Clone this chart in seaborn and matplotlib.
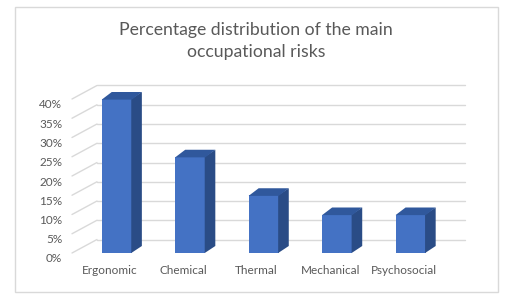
import numpy as np
import pandas as pd
import matplotlib
matplotlib.use("Agg")
import matplotlib.pyplot as plt
import seaborn as sns
from matplotlib.patches import Polygon, Rectangle
from matplotlib.lines import Line2D
from matplotlib.transforms import IdentityTransform, ScaledTranslation

# ---- data ----
categories = ["Ergonomic", "Chemical", "Thermal", "Mechanical", "Psychosocial"]
values = [0.40, 0.25, 0.15, 0.10, 0.10]
yticks = [0.00, 0.05, 0.10, 0.15, 0.20, 0.25, 0.30, 0.35, 0.40]
ytick_labels = ["0%", "5%", "10%", "15%", "20%", "25%", "30%", "35%", "40%"]
title = "Percentage distribution of the main\noccupational risks"

sns.set_theme(style="white")
plt.rcParams["font.family"] = ["Lato", "DejaVu Sans"]

W, H = 516, 298
fig = plt.figure(figsize=(W / 100, H / 100), dpi=100)
fig.patch.set_facecolor("white")

# front plane of the pseudo-3D chart (pixel coords from top-left)
L, R, B, T = 72, 440, 253, 99
ax = fig.add_axes([L / W, (H - B) / H, (R - L) / W, (B - T) / H])
ax.patch.set_visible(False)

df = pd.DataFrame({"risk": categories, "pct": values})
sns.barplot(data=df, x="risk", y="pct", color="#4472C4", saturation=1,
            width=0.41, ax=ax, zorder=3, edgecolor="none", linewidth=0)
ax.set_xlim(-0.61, 4.4)
ax.set_ylim(0, 0.40)
for s in ax.spines.values():
    s.set_visible(False)
ax.set_xlabel("")
ax.set_ylabel("")

TXT = "#595959"
ax.set_yticks(yticks, labels=ytick_labels)
ax.set_xticks(np.arange(len(categories)) - 7 / 73.4, labels=categories)
ax.tick_params(axis="both", length=0, colors=TXT, labelsize=8.5)
ax.tick_params(axis="y", pad=7)
ax.tick_params(axis="x", pad=9)
for lab in ax.get_yticklabels():
    lab.set_transform(lab.get_transform() + ScaledTranslation(0, -0.05, fig.dpi_scale_trans))

# walls: left diagonals and back gridlines
tr = ax.transData
x0, x1 = ax.get_xlim()
WDX, WDY = 25, 13.5
GRID = "#d9d9d9"
for t in yticks:
    px0, py = tr.transform((x0, t))
    px1, _ = tr.transform((x1, t))
    ax.add_line(Line2D([px0, px0 + WDX], [py, py + WDY], transform=IdentityTransform(),
                       color=GRID, lw=1, clip_on=False, zorder=1))
    ax.add_line(Line2D([px0 + WDX, px1 + WDX], [py + WDY, py + WDY], transform=IdentityTransform(),
                       color=GRID, lw=1, clip_on=False, zorder=1))

# 3D faces of bars
BDX, BDY = 10, 7
for p in ax.patches:
    bx, by = p.get_x(), p.get_y()
    bw, bh = p.get_width(), p.get_height()
    (xl, yb) = tr.transform((bx, by))
    (xr, yt) = tr.transform((bx + bw, by + bh))
    side = Polygon([(xr - 0.6, yb), (xr + BDX, yb + BDY), (xr + BDX, yt + BDY), (xr - 0.6, yt)],
                   closed=True, transform=IdentityTransform(), facecolor="#2A4C86",
                   edgecolor="none", zorder=3.5, clip_on=False)
    top = Polygon([(xl, yt - 0.6), (xr, yt - 0.6), (xr + BDX, yt + BDY), (xl + BDX, yt + BDY)],
                  closed=True, transform=IdentityTransform(), facecolor="#30589C",
                  edgecolor="none", zorder=3.6, clip_on=False)
    ax.add_patch(side)
    ax.add_patch(top)

# chart border
fig.add_artist(Rectangle((15 / W, (H - 292) / H), (498 - 15) / W, (292 - 7) / H,
                         transform=fig.transFigure, fill=False, edgecolor=GRID, lw=1))

fig.text(256 / W, 1 - 41 / H, title, ha="center", va="center", color=TXT,
         fontsize=12.7, linespacing=1.45)

fig.savefig("out.png", dpi=100)
